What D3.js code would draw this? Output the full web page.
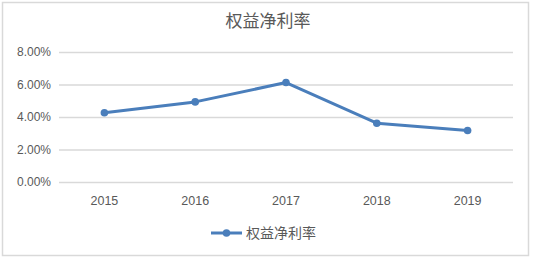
<!DOCTYPE html>
<html>
<head>
<meta charset="utf-8">
<script src="https://cdn.jsdelivr.net/npm/d3@7"></script>
<style>
  body { margin: 0; background: #fff; }
  svg { display: block; }
</style>
</head>
<body>
<div class="chart"></div>
<script>
// data
var years = ["2015", "2016", "2017", "2018", "2019"];
var roe = [0.0426, 0.0493, 0.0612, 0.0362, 0.0317];
var yTicks = [0, 0.02, 0.04, 0.06, 0.08];
var seriesName = "权益净利率";

var W = 536, H = 265;
var margins = { top: 52, right: 23, bottom: 83, left: 59 };
var width = W - margins.left - margins.right;
var height = H - margins.top - margins.bottom;

var svg = d3.select(".chart").append("svg")
    .attr("width", W)
    .attr("height", H);

// chart border
svg.append("rect")
    .attr("x", 2.5).attr("y", 2.5)
    .attr("width", 526).attr("height", 253)
    .attr("fill", "#fff")
    .attr("stroke", "#d9d9d9")
    .attr("stroke-width", 1.5);

svg.append("text")
    .attr("x", 268)
    .attr("y", 27)
    .attr("text-anchor", "middle")
    .style("font-family", "'Noto Sans CJK SC', sans-serif")
    .style("font-size", "17px")
    .attr("fill", "#595959")
    .text(seriesName);

var g = svg.append("g")
    .attr("transform", "translate(" + margins.left + "," + margins.top + ")");

var x = d3.scaleBand()
    .domain(years)
    .range([0, width]);

var y = d3.scaleLinear()
    .domain([0, 0.08])
    .range([height, 0]);

// gridlines
g.append("g")
    .attr("class", "grid")
    .call(d3.axisLeft(y).tickValues(yTicks).tickSize(-width).tickFormat(""))
    .call(function (s) {
        s.select(".domain").remove();
        s.selectAll("line").attr("stroke", "#d9d9d9").attr("stroke-width", 1.3);
    });

// y labels
g.append("g")
    .call(d3.axisLeft(y).tickValues(yTicks).tickSize(0).tickPadding(8)
        .tickFormat(function (d) { return (d * 100).toFixed(2) + "%"; }))
    .call(function (s) {
        s.select(".domain").remove();
        s.selectAll("text")
            .attr("fill", "#595959")
            .style("font-family", "'Liberation Sans', sans-serif")
            .style("font-size", "12px");
    });

// x labels
g.append("g")
    .attr("transform", "translate(0," + height + ")")
    .call(d3.axisBottom(x).tickSize(0).tickPadding(14))
    .call(function (s) {
        s.select(".domain").remove();
        s.selectAll("text")
            .attr("fill", "#595959")
            .style("font-family", "'Liberation Sans', sans-serif")
            .style("font-size", "12.5px");
    });

var blue = "#4a7ebb";
var line = d3.line()
    .x(function (d, i) { return x(years[i]) + x.bandwidth() / 2; })
    .y(function (d) { return y(d); });

g.append("path")
    .datum(roe)
    .attr("d", line)
    .attr("fill", "none")
    .attr("stroke", blue)
    .attr("stroke-width", 3)
    .attr("stroke-linejoin", "round");

g.selectAll(".dot")
    .data(roe)
    .enter().append("circle")
    .attr("class", "dot")
    .attr("cx", function (d, i) { return x(years[i]) + x.bandwidth() / 2; })
    .attr("cy", function (d) { return y(d); })
    .attr("r", 3.8)
    .attr("fill", blue);

// legend
var lg = svg.append("g").attr("transform", "translate(211,233)");
lg.append("line")
    .attr("x1", 0).attr("x2", 31)
    .attr("stroke", blue).attr("stroke-width", 3);
lg.append("circle").attr("cx", 15.5).attr("r", 3.8).attr("fill", blue);
lg.append("text")
    .attr("x", 35)
    .attr("dy", "0.36em")
    .style("font-family", "'Noto Sans CJK SC', sans-serif")
    .style("font-size", "14px")
    .attr("fill", "#595959")
    .text(seriesName);
</script>
</body>
</html>
